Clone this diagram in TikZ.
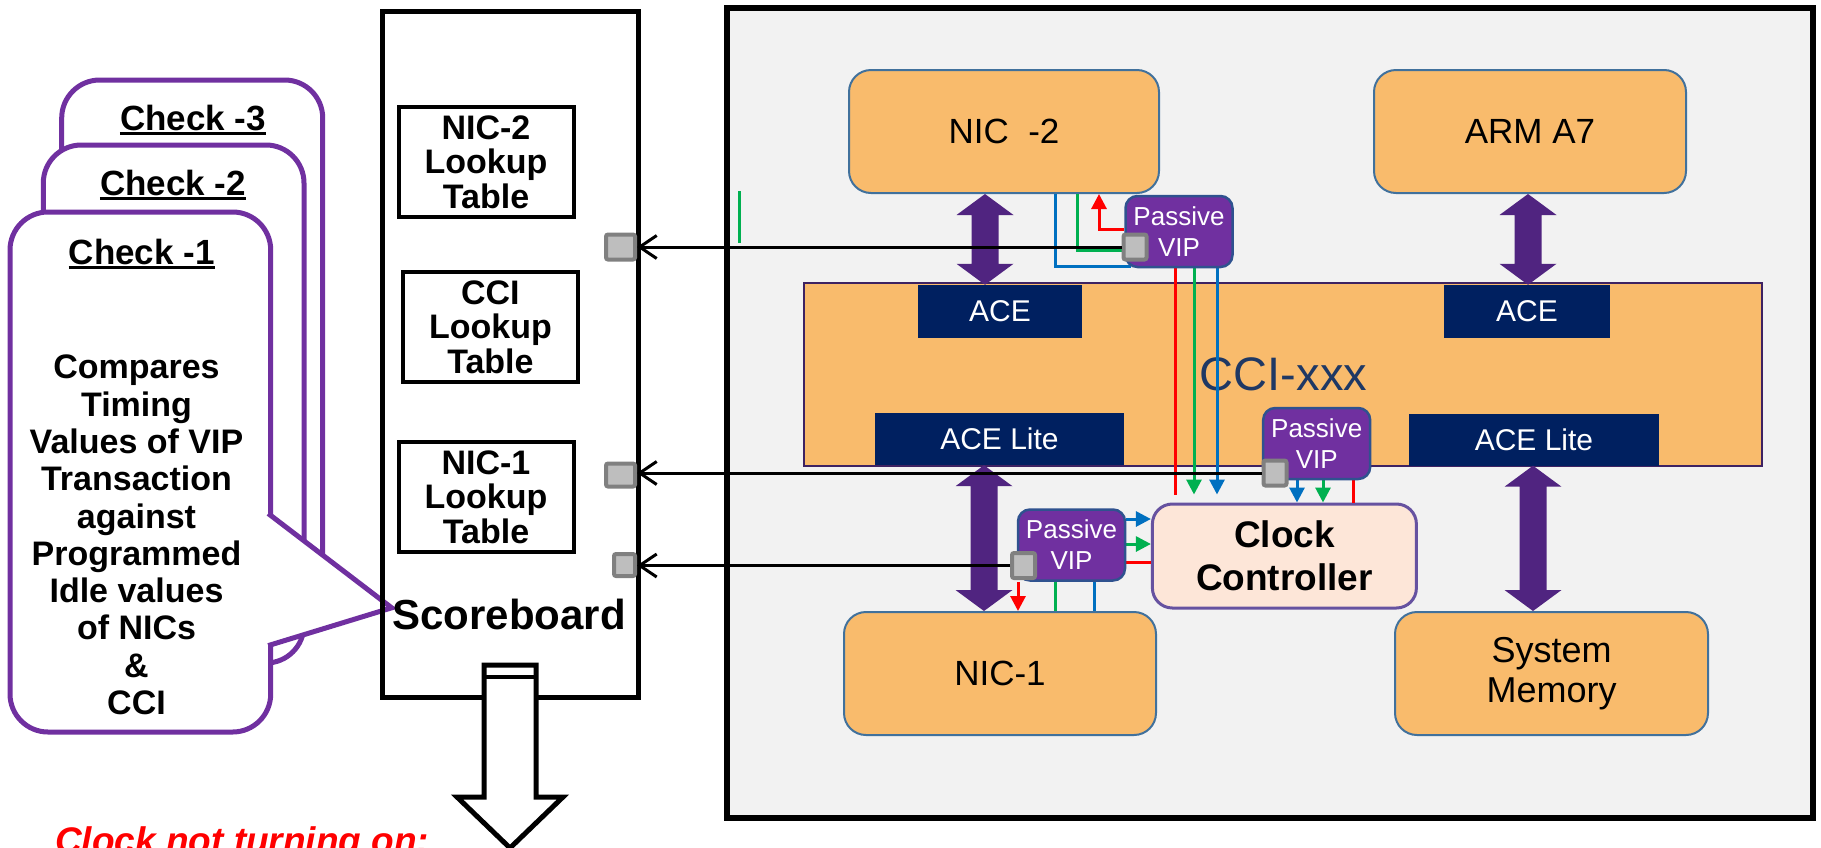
\documentclass[tikz,border=0pt]{standalone}
\usepackage{fontspec}
\setmainfont{Liberation Sans}
\usetikzlibrary{arrows.meta,calc}
\definecolor{cardp}{RGB}{112,48,160}
\definecolor{orng}{RGB}{249,187,108}
\definecolor{orngb}{RGB}{65,113,156}
\definecolor{navyb}{RGB}{0,32,96}
\definecolor{ccib}{RGB}{62,34,98}
\definecolor{vipf}{RGB}{112,48,160}
\definecolor{vipb}{RGB}{47,82,143}
\definecolor{arrp}{RGB}{80,36,128}
\definecolor{ccf}{RGB}{253,230,216}
\definecolor{ccb}{RGB}{102,82,160}
\definecolor{portf}{RGB}{190,190,190}
\definecolor{portb}{RGB}{128,128,128}
\definecolor{panelf}{RGB}{242,242,242}
\definecolor{sred}{RGB}{255,0,0}
\definecolor{sgreen}{RGB}{0,176,80}
\definecolor{sblue}{RGB}{0,112,192}
\definecolor{ccitext}{RGB}{31,56,100}
\newcommand\fatarr[2]{%
  \fill[arrp] let \p1=(#1), \p2=(#2) in
    (\x1,\y1) -- (\x1+28.5pt,\y1-21pt) -- (\x1+13.5pt,\y1-21pt) -- (\x1+13.5pt,\y2+21pt)
    -- (\x1+28.5pt,\y2+21pt) -- (\x1,\y2) -- (\x1-28.5pt,\y2+21pt) -- (\x1-13.5pt,\y2+21pt)
    -- (\x1-13.5pt,\y1-21pt) -- (\x1-28.5pt,\y1-21pt) -- cycle;}
\tikzset{
  orangebox/.style={draw=orngb, line width=2pt, fill=orng, rounded corners=22pt,
    minimum width=310pt, minimum height=123pt, font=\fontsize{35}{40}\selectfont,
    align=center, inner sep=0pt},
  acebox/.style={fill=navyb, text=white, font=\fontsize{30}{32}\selectfont,
    inner sep=0pt, minimum height=53pt},
  vipbox/.style={draw=vipb, line width=2.5pt, fill=vipf, rounded corners=12pt, text=white,
    align=center, font=\fontsize{26}{31}\selectfont, minimum width=107pt,
    minimum height=71pt, inner sep=0pt},
  portsq/.style={draw=portb, fill=portf, line width=4pt, rounded corners=2pt, inner sep=0pt},
  lut/.style={draw=black, line width=4pt, align=center,
    font=\fontsize{34}{34.5}\selectfont\bfseries, minimum width=175pt,
    minimum height=110pt, inner sep=0pt},
  probe/.style={line width=3pt},
  arrtip/.style={-{Triangle[length=15pt,width=15pt]}},
  sbline/.style={line width=3pt, -{Straight Barb[length=17pt,width=23pt]}},
  cardstyle/.style={draw=cardp, line width=5pt, fill=white, rounded corners=38pt},
  cardtitle/.style={font=\fontsize{35}{38}\selectfont\bfseries, anchor=base, inner sep=0pt},
}
\begin{document}
\begin{tikzpicture}[x=1pt,y=-1pt]
\useasboundingbox (0,0) rectangle (1821,847);

% ---------- right panel ----------
\draw[line width=6pt, fill=panelf] (727,8) rectangle (1813,818);
\draw[probe, sgreen] (739,191) -- (739,243);

\node[draw=ccib, line width=2.5pt, fill=orng, minimum width=958pt, minimum height=183pt,
  inner sep=0pt] (cci) at (1283,374.5) {};
\node[font=\fontsize{47}{50}\selectfont, text=ccitext] (ccit) at (1283.5,374) {CCI-xxx};
\node[acebox, minimum width=164pt] (aceL) at (1000,311.5) {ACE};
\node[acebox, minimum width=166pt] (aceR) at (1527,311.5) {ACE};
\node[acebox, minimum width=249pt, minimum height=52pt] (aceLL) at (999.5,439) {ACE Lite};
\node[acebox, minimum width=250pt, minimum height=52pt] (aceLR) at (1534,439.5) {ACE Lite};

\node[orangebox] (nic2) at (1004,131.5) {NIC~~-2};
\node[orangebox, minimum width=312pt] (arm) at (1530,131.5) {ARM A7};
\node[orangebox, minimum width=312pt] (nic1) at (1000,673.5) {NIC-1};
\node[orangebox, minimum width=313pt, font=\fontsize{36}{40}\selectfont] (mem) at (1551.5,673.5) {System\\Memory};

\node[draw=ccb, line width=3pt, fill=ccf, rounded corners=20pt, minimum width=264pt,
  minimum height=104pt, align=center, inner sep=0pt,
  font=\fontsize{37}{43.3}\selectfont\bfseries] (cc) at (1284.4,556) {Clock\\Controller};

\fatarr{nic2.south -| 985,0}{aceL.north -| 985,0}
\fatarr{arm.south -| 1528,0}{aceR.north -| 1528,0}
\fatarr{aceLL.south -| 984,0}{nic1.north -| 984,0}
\fatarr{aceLR.south -| 1533,0}{mem.north -| 1533,0}

% VIP anchors (boxes drawn on top of the probe lines below)
\path node[vipbox, draw=none, fill=none, text opacity=0] (vip1) at (1179,231.5) {Passive\\VIP}
      node[vipbox, draw=none, fill=none, text opacity=0] (vip2) at (1316.7,443.5) {Passive\\VIP}
      node[vipbox, draw=none, fill=none, text opacity=0] (vip3) at (1071.5,545) {Passive\\VIP};

% probe lines VIP1
\draw[probe, sred, arrtip] ([yshift=2pt]vip1.west) -| (nic2.south -| 1099,0);
\draw[probe, sgreen] (nic2.south -| 1077,0) |- ([yshift=-3pt]vip1.west |- 0,247);
\draw[probe, sblue] (nic2.south -| 1055,0) |- ([xshift=7pt,yshift=1.5pt]vip1.south west);
\draw[probe, sred, shorten >=8pt] (vip1.south -| 1175,0) -- (cc.north -| 1175,0);
\draw[probe, sgreen, arrtip, shorten >=8pt] (vip1.south -| 1194,0) -- (cc.north -| 1194,0);
\draw[probe, sblue, arrtip, shorten >=8pt] (vip1.south -| 1217,0) -- (cc.north -| 1217,0);

% VIP2
\draw[probe, sblue, arrtip] (vip2.south -| 1297,0) -- (cc.north -| 1297,0);
\draw[probe, sgreen, arrtip] (vip2.south -| 1323,0) -- (cc.north -| 1323,0);
\draw[probe, sred] (vip2.south -| 1353,0) -- (cc.north -| 1353,0);

% VIP3
\draw[probe, sblue, arrtip] (vip3.east |- 0,519) -- (cc.west |- 0,519);
\draw[probe, sgreen, arrtip] (vip3.east |- 0,544) -- (cc.west |- 0,544);
\draw[probe, sred] (vip3.east |- 0,562) -- (cc.west |- 0,562);
\draw[probe, sred, arrtip] (vip3.south -| 1018,0) -- (nic1.north -| 1018,0);
\draw[probe, sgreen] (vip3.south -| 1055,0) -- (nic1.north -| 1055,0);
\draw[probe, sblue] (vip3.south -| 1094,0) -- (nic1.north -| 1094,0);

% VIP boxes
\node[vipbox] (vip1box) at (vip1) {Passive\\VIP};
\node[vipbox] (vip2box) at (vip2) {Passive\\VIP};
\node[vipbox] (vip3box) at (vip3) {Passive\\VIP};

\node[portsq, minimum width=23pt, minimum height=25pt] (vip1p) at (1135,247) {};
\node[portsq, minimum width=23pt, minimum height=25pt] (vip2p) at (1275,473) {};
\node[portsq, minimum width=23pt, minimum height=25pt] (vip3p) at (1023.5,565.5) {};

% ---------- cards ----------
\draw[cardstyle] (61.7,80) rectangle (322.7,620);
\draw[cardstyle] (43.3,145) rectangle (304,663);
\draw[cardstyle] (10,212) rectangle (270.7,732);
\fill[white] (265,511) -- (391.7,607.8) -- (265,646.5) -- cycle;
\draw[draw=cardp, line width=5pt] (268.2,513.5) -- (391.7,607.8) -- (268.2,645.6);

\node[cardtitle] (c3t) at (193,130.3) {Check -3};
\node[cardtitle] (c2t) at (173,195) {Check -2};
\node[cardtitle] (c1t) at (141.7,264.3) {Check -1};
\foreach \n in {c3t,c2t,c1t}
  \draw[line width=3pt] ([yshift=-3.5pt]\n.base west) -- ([yshift=-3.5pt]\n.base east);
\node[font=\fontsize{34}{37.3}\selectfont\bfseries, align=center] (c1b) at (136.5,535)
  {Compares\\Timing\\Values of VIP\\Transaction\\against\\Programmed\\Idle values\\of NICs\\\&\\CCI};

% ---------- scoreboard ----------
\node[draw, line width=5pt, minimum width=256pt, minimum height=686pt] (sb) at (510,354) {};
\node[lut] (lut2) at (486,162) {NIC-2\\Lookup\\Table};
\node[lut] (lutc) at (490.4,327) {CCI\\Lookup\\Table};
\node[lut] (lut1) at (486,497) {NIC-1\\Lookup\\Table};
\node[font=\fontsize{42}{44}\selectfont\bfseries, anchor=base, inner sep=0pt] (sbl) at (509,629) {Scoreboard};
\node[portsq, minimum width=29pt, minimum height=25pt] (sbp1) at (620.5,247) {};
\node[portsq, minimum width=29pt, minimum height=23pt] (sbp2) at (620.5,475) {};
\node[portsq, minimum width=21pt, minimum height=22pt] (sbp3) at (624.5,565) {};

\draw[sbline] (vip1p.west) -- (vip1p.west -| sbp1.east);
\draw[sbline] (vip2p.west) -- (vip2p.west -| sbp2.east);
\draw[sbline] (vip3p.west) -- (vip3p.west -| sbp3.east);

\draw[line width=5pt, fill=white] (484,665) -- (536,665) -- (536,797) -- (563,797)
  -- (510,848) -- (457,797) -- (484,797) -- cycle;
\draw[line width=4pt] (484,677) -- (536,677);

\node[font=\fontsize{37}{40}\selectfont\bfseries\itshape, text=sred, anchor=base west,
  inner sep=0pt] (clk) at (55,853) {Clock not turning on:};
\end{tikzpicture}
\end{document}
